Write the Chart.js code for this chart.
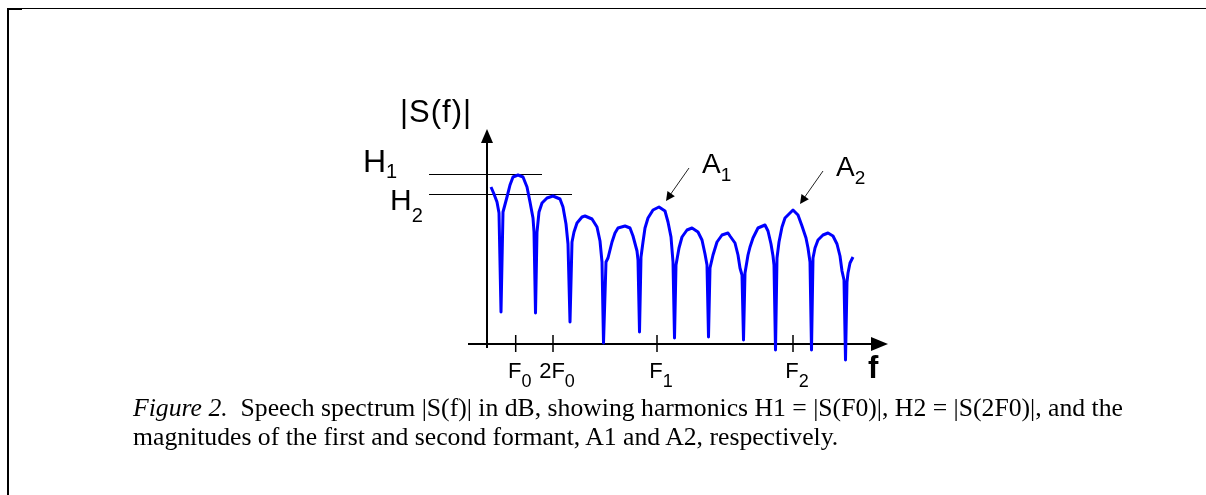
<!DOCTYPE html>
<html>
<head>
<meta charset="utf-8">
<script src="https://cdn.jsdelivr.net/npm/chart.js@4.4.1/dist/chart.umd.min.js"></script>
<style>
  html, body { margin: 0; padding: 0; background: #fff; }
  #wrap { position: relative; width: 1206px; height: 495px; overflow: hidden; }
  #box { position: absolute; left: 0; top: 0; width: 1206px; height: 495px; }
  .ln { position: absolute; background: #000; }
  #caption { position: absolute; left: 133px; top: 393px; font-family: "Liberation Serif", "Times New Roman", serif;
             font-size: 25.7px; line-height: 29px; color: #000; white-space: nowrap; }
</style>
</head>
<body>
<div id="wrap">
  <div id="box"><canvas id="c"></canvas></div>
  <div class="ln" style="left:7px;top:8px;width:1199px;height:1px;"></div>
  <div class="ln" style="left:7px;top:8px;width:15px;height:2px;"></div>
  <div class="ln" style="left:7px;top:8px;width:2px;height:487px;"></div>
  <div id="caption"><i>Figure 2.</i>&nbsp; Speech spectrum |S(f)| in dB, showing harmonics H1 = |S(F0)|, H2 = |S(2F0)|, and the<br>magnitudes of the first and second formant, A1 and A2, respectively.</div>
</div>
<script>
// ---- data (frequency in arbitrary Hz-like units, level in arbitrary dB-like units) ----
const freq = [40,70,100,120,140,160,200,230,260,310,360,400,430,460,470,485,500,520,550,600,660,730,760,790,810,830,850,870,900,950,980,1050,1100,1130,1150,1165,1190,1210,1230,1250,1280,1310,1380,1430,1460,1500,1510,1525,1540,1560,1580,1610,1660,1720,1780,1810,1840,1860,1875,1890,1920,1950,2000,2050,2110,2150,2180,2200,2215,2230,2260,2300,2350,2410,2430,2480,2510,2530,2550,2565,2580,2610,2630,2660,2710,2780,2810,2840,2860,2870,2885,2900,2920,2950,2980,3060,3110,3150,3190,3210,3230,3245,3260,3280,3310,3360,3410,3460,3500,3530,3550,3570,3585,3600,3610,3630,3660];
const level = [157,150,142,131,32,132,147,159,167,169,167,157,142,126,112,31,112,132,141,146,148,145,137,120,100,22,102,112,121,127,128,125,117,103,82,1,82,86,94,102,111,116,118,116,108,93,84,12,87,102,116,126,134,137,133,122,107,82,6,79,96,107,114,116,112,104,90,79,7,76,89,102,109,111,108,101,89,76,69,4,71,89,97,106,116,119,113,100,88,79,-6,86,102,117,126,134,129,118,106,96,82,-6,86,96,104,109,111,108,100,88,73,64,-16,62,71,81,87];

const tickValues = [287, 660, 1700, 3060];
const tickMain = ['F', '2F', 'F', 'F'];
const tickSub = ['0', '0', '1', '2'];

const harmonicLevels = [170, 150];
const harmonicEnds = [550, 850];
const harmonicSubs = ['1', '2'];

const formantFreq = [1720, 3060];
const formantLevel = [137, 134];
const formantSubs = ['1', '2'];

const points = freq.map((f, i) => ({ x: f, y: level[i] }));

const SANS = '"Liberation Sans", Arial, sans-serif';

function arrowHead(ctx, tx, ty, ang, len, half) {
  ctx.save();
  ctx.translate(tx, ty);
  ctx.rotate(ang);
  ctx.beginPath();
  ctx.moveTo(0, 0);
  ctx.lineTo(-len, -half);
  ctx.lineTo(-len, half);
  ctx.closePath();
  ctx.fill();
  ctx.restore();
}

const decor = {
  id: 'decor',
  beforeDatasetsDraw(chart) {
    const ctx = chart.ctx, xs = chart.scales.x, ys = chart.scales.y;
    const X = v => xs.getPixelForValue(v), Y = v => ys.getPixelForValue(v);
    ctx.save();
    ctx.strokeStyle = '#000'; ctx.fillStyle = '#000';
    // axes
    ctx.lineWidth = 2;
    ctx.beginPath();
    ctx.moveTo(X(0), Y(-4)); ctx.lineTo(X(0), Y(202));
    ctx.moveTo(X(-190), Y(0)); ctx.lineTo(X(3860), Y(0));
    ctx.stroke();
    arrowHead(ctx, X(0), Y(215), -Math.PI / 2, 14, 6);
    arrowHead(ctx, X(4010), Y(0), 0, 17, 7);
    // ticks
    ctx.lineWidth = 1.5;
    ctx.beginPath();
    tickValues.forEach(v => { ctx.moveTo(X(v), Y(0) - 9); ctx.lineTo(X(v), Y(0) + 8); });
    ctx.stroke();
    // harmonic level lines
    ctx.lineWidth = 1;
    ctx.beginPath();
    harmonicLevels.forEach((h, i) => {
      const y = Math.round(Y(h)) + 0.5;
      ctx.moveTo(X(-580), y); ctx.lineTo(X(harmonicEnds[i]), y);
    });
    ctx.stroke();
    ctx.restore();
  },
  afterDraw(chart) {
    const ctx = chart.ctx, xs = chart.scales.x, ys = chart.scales.y;
    const X = v => xs.getPixelForValue(v), Y = v => ys.getPixelForValue(v);
    ctx.save();
    ctx.fillStyle = '#000'; ctx.strokeStyle = '#000';
    ctx.textBaseline = 'alphabetic';
    // y axis title
    ctx.font = '31px ' + SANS;
    ctx.letterSpacing = '1px';
    ctx.textAlign = 'left';
    ctx.fillText('|S(f)|', 400, 122);
    ctx.letterSpacing = '0px';
    // x axis title
    ctx.font = 'bold 31px ' + SANS;
    ctx.fillText('f', X(0) + 381, Y(0) + 34);
    // tick labels
    tickValues.forEach((v, i) => {
      ctx.font = '22px ' + SANS;
      const w = ctx.measureText(tickMain[i]).width;
      const left = X(v) - 1 - w / 2;
      ctx.fillText(tickMain[i], left, Y(0) + 34);
      ctx.font = '18px ' + SANS;
      ctx.fillText(tickSub[i], left + w, Y(0) + 43);
    });
    // harmonic labels
    const hStyle = [{ dx: -66, dy: -2, fs: 32, sdy: 6 }, { dx: -39, dy: 16, fs: 30, sdy: 12 }];
    harmonicLevels.forEach((h, i) => {
      const s = hStyle[i];
      ctx.font = s.fs + 'px ' + SANS;
      const x0 = X(-580) + s.dx, y0 = Y(h) + s.dy;
      ctx.fillText('H', x0, y0);
      const w = ctx.measureText('H').width;
      ctx.font = '20px ' + SANS;
      ctx.fillText(harmonicSubs[i], x0 + w, y0 + s.sdy);
    });
    // formant annotations
    formantFreq.forEach((f, i) => {
      const px = X(f), py = Y(formantLevel[i]);
      const sx = px + 30, sy = py - 39, ex = px + 7, ey = py - 6;
      ctx.lineWidth = 1;
      ctx.strokeStyle = '#222';
      ctx.beginPath(); ctx.moveTo(sx, sy); ctx.lineTo(ex + 3, ey - 4.5); ctx.stroke();
      arrowHead(ctx, ex, ey, Math.atan2(ey - sy, ex - sx), 9, 4.5);
      ctx.font = '28px ' + SANS;
      const tx = px + 43, ty = py - 34;
      ctx.fillText('A', tx, ty);
      const w = ctx.measureText('A').width;
      ctx.font = '19px ' + SANS;
      ctx.fillText(formantSubs[i], tx + w, ty + 8);
    });
    ctx.restore();
  }
};

new Chart(document.getElementById('c'), {
  type: 'scatter',
  data: {
    datasets: [{
      data: points,
      showLine: true,
      borderColor: '#0000ff',
      borderWidth: 3,
      borderJoinStyle: 'round',
      pointRadius: 0,
      pointHoverRadius: 0,
      tension: 0,
      fill: false
    }]
  },
  options: {
    responsive: true,
    maintainAspectRatio: false,
    animation: false,
    layout: { padding: { left: 400, right: 306, top: 100, bottom: 125 } },
    plugins: { legend: { display: false }, tooltip: { enabled: false } },
    scales: {
      x: { type: 'linear', min: -870, max: 4130, display: false },
      y: { type: 'linear', min: -26, max: 244, display: false }
    }
  },
  plugins: [decor]
});
</script>
</body>
</html>
